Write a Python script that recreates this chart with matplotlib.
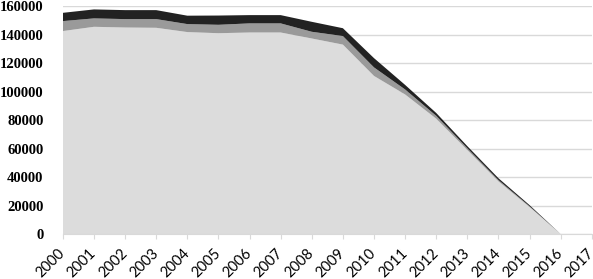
import matplotlib.pyplot as plt
import numpy as np

years = list(range(2000, 2017))
# bottom (light), middle (grey), top (dark) stacked layers
light = [142500, 145500, 145000, 144800, 141800, 141000, 141500, 141500, 137300,
         133000, 111000, 98000, 81000, 59000, 37000, 19000, 0]
mid = [7000, 5900, 5900, 6100, 5600, 5900, 6400, 6400, 4700,
       6000, 6000, 3500, 2000, 1200, 900, 500, 0]
dark = [5800, 6300, 6300, 6300, 5900, 6500, 5800, 5800, 7000,
        5500, 6500, 3200, 2000, 1500, 1300, 800, 0]
tick_years = list(range(2000, 2018))
y_ticks = list(range(0, 160001, 20000))

fig = plt.figure(figsize=(5.93, 2.79), dpi=100)
ax = fig.add_axes([0.106, 0.161, 0.892, 0.817])

ax.stackplot(years, light, mid, dark,
             colors=['#dcdcdc', '#9a9a9a', '#222222'], linewidth=0, zorder=2)

ax.set_xlim(2000, 2017)
ax.set_ylim(0, 160000)
ax.set_yticks(y_ticks)
ax.set_yticklabels([str(v) for v in y_ticks], family='Liberation Serif',
                   fontweight='bold', fontsize=10.5)
ax.set_xticks(tick_years)
ax.set_xticklabels([str(y) for y in tick_years], rotation=45, ha='right',
                   va='center', rotation_mode='anchor', family='Lato', fontsize=10.5)

ax.grid(axis='y', color='#d9d9d9', linewidth=1, zorder=1)
ax.set_axisbelow(True)
for s in ['top', 'right', 'left']:
    ax.spines[s].set_visible(False)
ax.spines['bottom'].set_color('#d9d9d9')
ax.tick_params(axis='y', length=0, pad=14)
ax.tick_params(axis='x', length=3.6, color='#d9d9d9', pad=8.5)

fig.savefig('out.png', dpi=100)
